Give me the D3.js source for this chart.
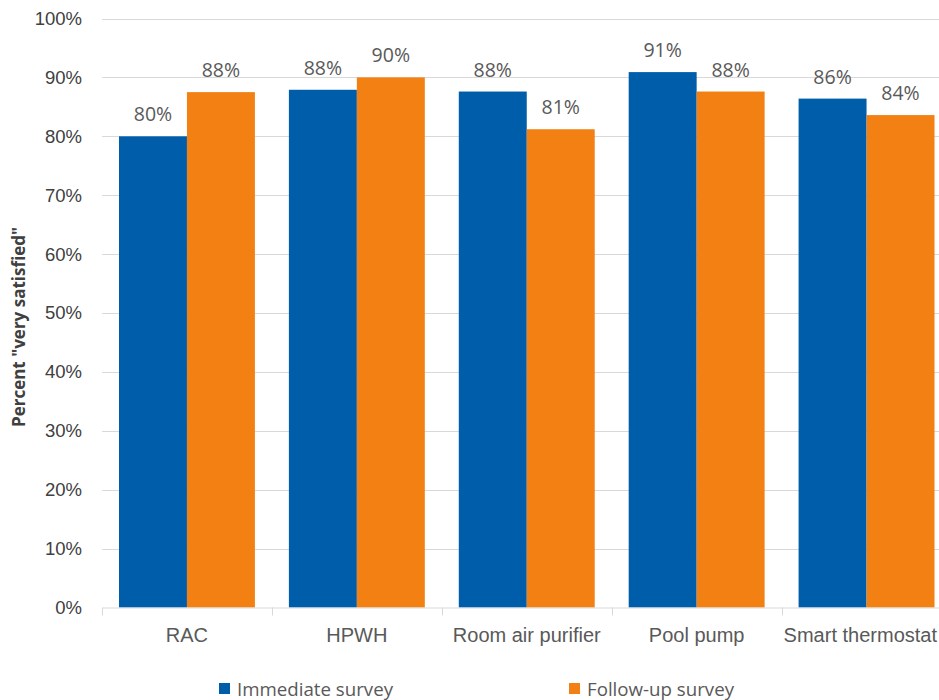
<!DOCTYPE html>
<html>
<head>
<meta charset="utf-8">
<script src="https://cdn.jsdelivr.net/npm/d3@7/dist/d3.min.js"></script>
<style>
  html, body { margin: 0; padding: 0; background: #ffffff; }
  svg { display: block; font-family: "Open Sans", "Noto Sans", sans-serif; }
</style>
</head>
<body>
<svg id="chart" width="939" height="700"></svg>
<script>
// Share of respondents "very satisfied" by product, per survey wave
const categories = ["RAC", "HPWH", "Room air purifier", "Pool pump", "Smart thermostat"];
const seriesNames = ["Immediate survey", "Follow-up survey"];
const immediateValues = [80.0, 87.9, 87.6, 90.9, 86.4];
const followUpValues = [87.5, 90.0, 81.2, 87.6, 83.6];
const yTickValues = [0, 10, 20, 30, 40, 50, 60, 70, 80, 90, 100];
const seriesColors = ["#005DA9", "#F28012"];

const W = 939;
const svg = d3.select("#chart");
const margin = { left: 102, top: 18.5, bottom: 607.5, right: 951.5 };

const x0 = d3.scaleBand().domain(categories).range([margin.left, margin.right]).paddingInner(0).paddingOuter(0);
const x1 = d3.scaleBand().domain(seriesNames).range([0, x0.bandwidth()]).paddingInner(0).paddingOuter(0.25);
const y = d3.scaleLinear().domain([0, 100]).range([margin.bottom, margin.top]);

// Horizontal gridlines
svg.append("g")
  .selectAll("line")
  .data(yTickValues.filter(d => d > 0))
  .join("line")
  .attr("x1", margin.left).attr("x2", margin.right)
  .attr("y1", d => Math.round(y(d)) + 0.5).attr("y2", d => Math.round(y(d)) + 0.5)
  .attr("stroke", "#d9d9d9").attr("stroke-width", 1);

// Y axis labels
const yAxis = d3.axisLeft(y).tickValues(yTickValues).tickFormat(d => d + "%").tickSize(0).tickPadding(20);
const yg = svg.append("g").attr("transform", `translate(${margin.left},0)`).call(yAxis);
yg.select(".domain").remove();
yg.selectAll("text").attr("font-size", 18.5).attr("fill", "#404040").attr("font-family", null);

// Bars
const rows = categories.map((c, i) => ({ category: c, values: [immediateValues[i], followUpValues[i]] }));
const groups = svg.append("g").selectAll("g")
  .data(rows).join("g")
  .attr("transform", d => `translate(${x0(d.category)},0)`);

groups.selectAll("rect")
  .data(d => d.values.map((v, j) => ({ series: seriesNames[j], value: v, color: seriesColors[j] })))
  .join("rect")
  .attr("x", d => x1(d.series))
  .attr("width", x1.bandwidth())
  .attr("y", d => y(d.value))
  .attr("height", d => y(0) - y(d.value))
  .attr("fill", d => d.color);

// Value labels
groups.selectAll("text")
  .data(d => d.values.map((v, j) => ({ series: seriesNames[j], value: v })))
  .join("text")
  .attr("x", d => x1(d.series) + x1.bandwidth() / 2)
  .attr("y", d => y(d.value) - 15)
  .attr("text-anchor", "middle")
  .attr("font-size", 19.5)
  .attr("fill", "#595959")
  .text(d => Math.round(d.value) + "%");

// X axis
const xAxis = d3.axisBottom(x0).tickSize(0).tickPadding(20);
const xg = svg.append("g").attr("transform", `translate(0,${margin.bottom})`).call(xAxis);
xg.select(".domain").attr("stroke", "#d9d9d9");
xg.selectAll("text").attr("font-size", 20).attr("fill", "#595959").attr("font-family", null);

// Keep the last category label inside the drawing area
xg.selectAll(".tick").each(function (d) {
  const t = d3.select(this).select("text");
  const len = t.node().getComputedTextLength();
  const center = x0(d) + x0.bandwidth() / 2;
  const overflow = center + len / 2 - (W - 2);
  if (overflow > 0) t.attr("x", -overflow);
});

// Category boundary ticks
const boundaries = categories.map(c => x0(c)).concat([margin.right]);
svg.append("g").selectAll("line")
  .data(boundaries).join("line")
  .attr("x1", d => Math.round(d) + 0.5).attr("x2", d => Math.round(d) + 0.5)
  .attr("y1", margin.bottom).attr("y2", margin.bottom + 8)
  .attr("stroke", "#d9d9d9");

// Y axis title
svg.append("text")
  .attr("transform", "translate(25,327) rotate(-90)")
  .attr("text-anchor", "middle")
  .attr("font-size", 17)
  .attr("font-weight", "bold")
  .attr("fill", "#404040")
  .text('Percent "very satisfied"');

// Legend
const legendX = [219, 569];
const legend = svg.append("g").selectAll("g")
  .data(seriesNames).join("g")
  .attr("transform", (d, i) => `translate(${legendX[i]},689)`);
legend.append("rect")
  .attr("x", 0).attr("y", -6).attr("width", 11).attr("height", 11)
  .attr("fill", (d, i) => seriesColors[i]);
legend.append("text")
  .attr("x", 18).attr("y", 0).attr("dy", "0.35em")
  .attr("font-size", 18.7).attr("fill", "#595959")
  .text(d => d);
</script>
</body>
</html>
